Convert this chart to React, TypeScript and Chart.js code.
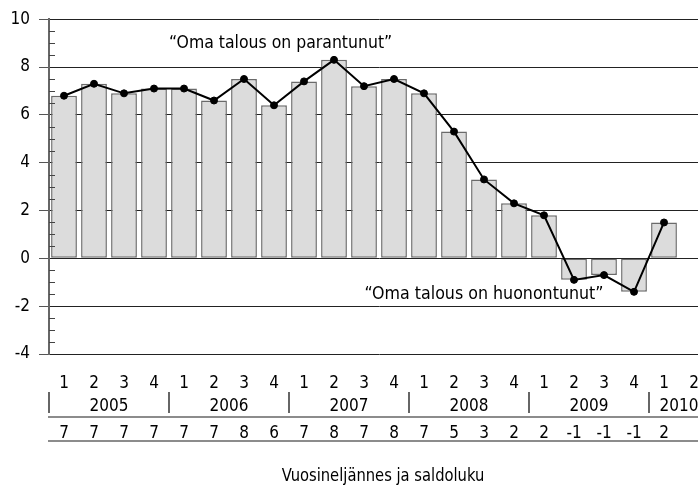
import React, { useEffect, useRef } from "react";
import { Chart, registerables } from "chart.js";

Chart.register(...registerables);

// ---- data ----
const quarters = [
  "1", "2", "3", "4",
  "1", "2", "3", "4",
  "1", "2", "3", "4",
  "1", "2", "3", "4",
  "1", "2", "3", "4",
  "1", "2",
];
const years = ["2005", "2006", "2007", "2008", "2009", "2010"];
const balance: (number | null)[] = [
  6.8, 7.3, 6.9, 7.1,
  7.1, 6.6, 7.5, 6.4,
  7.4, 8.3, 7.2, 7.5,
  6.9, 5.3, 3.3, 2.3,
  1.8, -0.9, -0.7, -1.4,
  1.5, null,
];
const saldo = [
  "7", "7", "7", "7",
  "7", "7", "8", "6",
  "7", "8", "7", "8",
  "7", "5", "3", "2",
  "2", "-1", "-1", "-1",
  "2", "",
];
const yMin = -4;
const yMax = 10;
const yStep = 2;
const noteUp = "\u201COma talous on parantunut\u201D";
const noteDown = "\u201COma talous on huonontunut\u201D";
const xTitle = "Vuosineljännes ja saldoluku";

const FONT = '"Liberation Sans Narrow", "DejaVu Sans Condensed", "Roboto", sans-serif';

function drawText(ctx: CanvasRenderingContext2D, text: string, x: number, y: number, size: number, sx = 1) {
  ctx.save();
  ctx.translate(x, y);
  ctx.scale(sx, 1);
  ctx.font = size + "px " + FONT;
  ctx.textAlign = "center";
  ctx.textBaseline = "alphabetic";
  ctx.fillStyle = "#000";
  ctx.fillText(text, 0, 0);
  ctx.restore();
}

const tablePlugin = {
  id: "tablePlugin",
  afterDraw(chart: any) {
    const { ctx, chartArea, scales } = chart;
    const xs = scales.x;
    const ys = scales.y;
    const W = chart.width;
    ctx.save();

    // minor ticks on the y axis
    ctx.strokeStyle = "#444";
    ctx.lineWidth = 1;
    for (let v = yMin; v <= yMax; v += yStep / 4) {
      if (Math.abs(v % yStep) < 1e-9) continue;
      const py = Math.round(ys.getPixelForValue(v)) + 0.5;
      ctx.beginPath();
      ctx.moveTo(chartArea.left, py);
      ctx.lineTo(chartArea.left + 6, py);
      ctx.stroke();
    }

    // annotations
    drawText(ctx, noteUp, xs.getPixelForValue(7.22), ys.getPixelForValue(8.8), 18, 0.97);
    drawText(ctx, noteDown, xs.getPixelForValue(14.0), ys.getPixelForValue(-1.68), 18, 0.98);

    const half = (xs.getPixelForValue(1) - xs.getPixelForValue(0)) / 2;
    const edge = (k: number) => xs.getPixelForValue(k) - half;

    // quarter row
    quarters.forEach((q, i) => {
      drawText(ctx, q, xs.getPixelForValue(i), 387.5, 17);
    });

    // year row
    years.forEach((yr, i) => {
      const a = edge(i * 4);
      const b = edge(Math.min(i * 4 + 4, quarters.length));
      drawText(ctx, yr, (a + b) / 2, 411, 17);
    });
    ctx.strokeStyle = "#666";
    ctx.lineWidth = 2;
    years.forEach((_, i) => {
      const px = Math.round(edge(i * 4));
      ctx.beginPath();
      ctx.moveTo(px, 392);
      ctx.lineTo(px, 413);
      ctx.stroke();
    });

    // separators
    ctx.lineWidth = 1.5;
    [417, 441].forEach((ly) => {
      ctx.beginPath();
      ctx.moveTo(chartArea.left - 1, ly);
      ctx.lineTo(W, ly);
      ctx.stroke();
    });

    // saldo row
    saldo.forEach((s, i) => {
      drawText(ctx, s, xs.getPixelForValue(i), 437.5, 17);
    });

    // axis title
    drawText(ctx, xTitle, 383, 481, 18, 0.91);

    ctx.restore();
  },
};

export default function App() {
  const ref = useRef<HTMLCanvasElement | null>(null);

  useEffect(() => {
    const canvas = ref.current;
    if (!canvas) return;
    Chart.defaults.font.family = FONT;
    const chart = new Chart(canvas, {
      type: "bar",
      data: {
        labels: quarters,
        datasets: [
          {
            type: "line",
            data: balance,
            borderColor: "#000",
            borderWidth: 2,
            pointRadius: 3.5,
            pointBackgroundColor: "#000",
            pointBorderColor: "#000",
            pointBorderWidth: 1,
            tension: 0,
            order: 0,
          } as any,
          {
            type: "bar",
            data: balance,
            backgroundColor: "#dcdcdc",
            borderColor: "#6a6a6a",
            borderWidth: 1.5,
            borderSkipped: false,
            barPercentage: 0.86,
            categoryPercentage: 1,
            order: 1,
          } as any,
        ],
      },
      options: {
        responsive: false,
        animation: false,
        devicePixelRatio: 1,
        layout: { padding: { left: 0, top: 16, right: 11, bottom: 132 } },
        plugins: {
          legend: { display: false },
          tooltip: { enabled: false },
        },
        scales: {
          x: {
            display: false,
          },
          y: {
            min: yMin,
            max: yMax,
            afterFit: (scale: any) => {
              scale.width = 49;
            },
            ticks: {
              stepSize: yStep,
              color: "#000",
              padding: 9,
              font: { size: 17, family: FONT },
            },
            grid: {
              color: "#222",
              lineWidth: 1,
              tickLength: 10,
              tickColor: "#555",
              drawTicks: true,
            },
            border: { color: "#666", width: 2 },
          },
        },
      },
      plugins: [tablePlugin],
    });
    return () => chart.destroy();
  }, []);

  return (
    <div
      style={{
        position: "absolute",
        left: 0,
        top: 0,
        width: 698,
        height: 486,
        overflow: "hidden",
        background: "#fff",
      }}
    >
      <canvas ref={ref} width={720} height={486} style={{ width: 720, height: 486, display: "block" }} />
    </div>
  );
}
